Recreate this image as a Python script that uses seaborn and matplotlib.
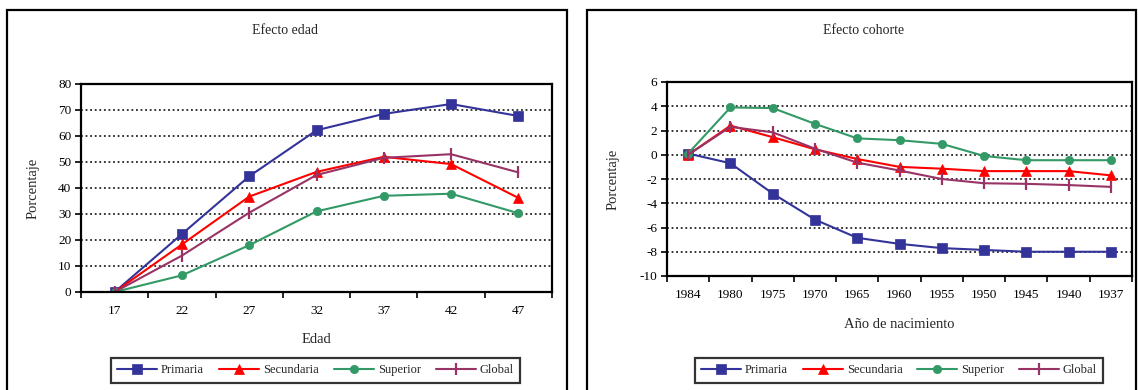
import numpy as np
import pandas as pd
import matplotlib
matplotlib.use("Agg")
import matplotlib.pyplot as plt
from matplotlib.patches import Rectangle
from matplotlib.ticker import FixedLocator
import seaborn as sns

# data
edad = ['17', '22', '27', '32', '37', '42', '47']
edad_primaria = [0, 22.3, 44.5, 62.2, 68.5, 72.3, 67.7]
edad_secundaria = [0, 18.3, 36.7, 46.2, 52.0, 49.2, 36.2]
edad_superior = [0, 6.4, 18.0, 31.0, 37.0, 37.8, 30.3]
edad_global = [0, 14.0, 30.5, 45.0, 51.6, 53.0, 46.0]

cohorte = ['1984', '1980', '1975', '1970', '1965', '1960', '1955', '1950', '1945', '1940', '1937']
coh_primaria = [0.1, -0.7, -3.2, -5.35, -6.85, -7.35, -7.7, -7.85, -8.0, -8.0, -8.0]
coh_secundaria = [0, 2.4, 1.45, 0.45, -0.35, -1.0, -1.15, -1.35, -1.35, -1.35, -1.7]
coh_superior = [0.1, 3.9, 3.85, 2.55, 1.35, 1.2, 0.9, -0.1, -0.45, -0.45, -0.45]
coh_global = [0, 2.3, 1.85, 0.5, -0.65, -1.3, -2.0, -2.35, -2.4, -2.5, -2.65]

series = ['Primaria', 'Secundaria', 'Superior', 'Global']
colors = {'Primaria': '#333399', 'Secundaria': '#FF0000', 'Superior': '#339966', 'Global': '#993366'}
markers = {'Primaria': 's', 'Secundaria': '^', 'Superior': 'o', 'Global': '|'}
msize = {'Primaria': 7.5, 'Secundaria': 7.5, 'Superior': 6, 'Global': 9}

sns.set_theme(style="white")
plt.rcParams['font.family'] = ['Liberation Serif', 'DejaVu Serif']

W, H = 1138, 390
fig = plt.figure(figsize=(W / 100, H / 100), dpi=100)


def fx(px):
    return px / W


def fy(py):
    return 1 - py / H


def draw_panel(ax, cats, data, ylim, yticks, title, xlabel, tx, ylab_x, xlab_y):
    for name in series:
        sns.lineplot(x=cats, y=data[name], ax=ax, color=colors[name], marker=markers[name],
                     markersize=msize[name], markeredgewidth=1.6 if name == 'Global' else 0.5,
                     markeredgecolor=colors[name], linewidth=1.5, label=name, sort=False)
    ax.get_legend().remove()
    n = len(cats)
    ax.set_xlim(-0.5, n - 0.5)
    ax.set_ylim(*ylim)
    ax.set_yticks(yticks)
    ax.set_yticklabels([str(t) for t in yticks])
    ax.xaxis.set_minor_locator(FixedLocator(np.arange(-0.5, n, 1.0)))
    ax.tick_params(axis='x', which='major', length=0, labelsize=9.5, pad=9, colors='black')
    ax.tick_params(axis='x', which='minor', length=4, width=1.2, direction='out', bottom=True, color='black')
    ax.tick_params(axis='y', length=4, width=1.2, direction='out', left=True, labelsize=9.5, colors='black', pad=3)
    ax.yaxis.grid(True, linestyle=(0, (1.2, 1.8)), color='black', linewidth=1.1)
    ax.xaxis.grid(False)
    for s in ax.spines.values():
        s.set_color('black')
        s.set_linewidth(1.6)
    ax.set_xlabel(xlabel, fontsize=10.5)
    ax.set_ylabel('Porcentaje', fontsize=10.5)
    ax.yaxis.set_label_coords(ylab_x, 0.5)
    ax.xaxis.set_label_coords(0.5, xlab_y)
    fig.text(tx, fy(31), title, ha='center', va='center', fontsize=10)


ax1 = fig.add_axes([fx(81), fy(292), fx(552 - 81), (292 - 84) / H])
draw_panel(ax1, edad,
           {'Primaria': edad_primaria, 'Secundaria': edad_secundaria,
            'Superior': edad_superior, 'Global': edad_global},
           (0, 80), list(range(0, 81, 10)), 'Efecto edad', 'Edad', fx(285), -0.088, -0.195)

ax2 = fig.add_axes([fx(667), fy(276), fx(1132 - 667), (276 - 82) / H])
draw_panel(ax2, cohorte,
           {'Primaria': coh_primaria, 'Secundaria': coh_secundaria,
            'Superior': coh_superior, 'Global': coh_global},
           (-10, 6), list(range(-10, 7, 2)), 'Efecto cohorte', 'Año de nacimiento', fx(864), -0.102, -0.215)

# outer panel frames
fig.patches.append(Rectangle((fx(7), -0.1), fx(567 - 7), fy(10) + 0.1, transform=fig.transFigure,
                             fill=False, edgecolor='black', linewidth=1.6))
fig.patches.append(Rectangle((fx(587), -0.1), fx(1136 - 587), fy(10) + 0.1, transform=fig.transFigure,
                             fill=False, edgecolor='black', linewidth=1.6))

for ax, x0, x1 in [(ax1, 111, 520), (ax2, 695, 1103)]:
    h, l = ax.get_legend_handles_labels()
    leg = fig.legend(h, l, loc='upper left', ncol=4, mode='expand',
                     bbox_to_anchor=(fx(x0), fy(388), fx(x1 - x0), (388 - 358) / H),
                     fontsize=9, frameon=True, fancybox=False, handlelength=3.2,
                     handletextpad=0.3, columnspacing=0.6, borderaxespad=0, borderpad=0.5)
    leg.get_frame().set_edgecolor('black')
    leg.get_frame().set_linewidth(1.6)

fig.savefig('out.png', dpi=100)
